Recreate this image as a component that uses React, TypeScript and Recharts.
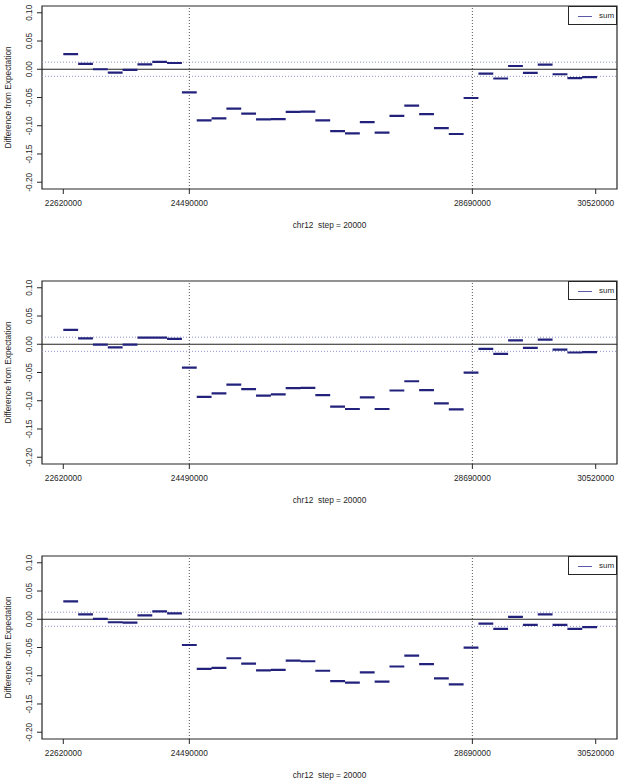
import { Line, LineChart, ReferenceArea, ReferenceLine, XAxis, YAxis } from 'recharts'

// window starts along chr12, each window is BIN_WIDTH wide
const binStarts = [
  22620000, 22840000, 23060000, 23280000, 23500000, 23720000, 23940000, 24160000, 24380000,
  24600000, 24820000, 25040000, 25260000, 25480000, 25700000, 25920000, 26140000, 26360000,
  26580000, 26800000, 27020000, 27240000, 27460000, 27680000, 27900000, 28120000, 28340000,
  28560000, 28780000, 29000000, 29220000, 29440000, 29660000, 29880000, 30100000, 30320000,
]
const BIN_WIDTH = 220000

const sumTop = [
  0.0269, 0.0094, 0.0, -0.0058, -0.0012, 0.0088, 0.0129, 0.0111, -0.0409,
  -0.0906, -0.0871, -0.0696, -0.0784, -0.0889, -0.0883, -0.0754, -0.0749, -0.0906,
  -0.1094, -0.1135, -0.0936, -0.1123, -0.0825, -0.0643, -0.0795, -0.1041, -0.1146,
  -0.0509, -0.0076, -0.0164, 0.0058, -0.0064, 0.0082, -0.0088, -0.0158, -0.014,
]
const sumMiddle = [
  0.0254, 0.0105, -0.0006, -0.0056, -0.0008, 0.0117, 0.0117, 0.0094, -0.0412,
  -0.093, -0.0871, -0.0716, -0.0795, -0.0909, -0.0886, -0.0778, -0.0772, -0.0901,
  -0.1105, -0.1146, -0.0942, -0.1146, -0.0819, -0.0655, -0.0813, -0.1047, -0.1152,
  -0.0503, -0.0082, -0.017, 0.007, -0.0064, 0.0082, -0.0094, -0.0146, -0.014,
]
const sumBottom = [
  0.0316, 0.0088, 0.0006, -0.0053, -0.0058, 0.007, 0.014, 0.0105, -0.0456,
  -0.0877, -0.086, -0.069, -0.0784, -0.0906, -0.0895, -0.0731, -0.0743, -0.0912,
  -0.1094, -0.1123, -0.0942, -0.1105, -0.0836, -0.0643, -0.0795, -0.1047, -0.1152,
  -0.0503, -0.0076, -0.017, 0.0041, -0.0099, 0.0088, -0.0099, -0.017, -0.014,
]

const xTicks = [22620000, 24490000, 28690000, 30520000]
const yTicks = [-0.2, -0.15, -0.1, -0.05, 0, 0.05, 0.1]
const boundaryMarks = [24490000, 28690000]
const BAND = 0.0125

const X_DOMAIN: [number, number] = [22304000, 30836000]
const Y_DOMAIN: [number, number] = [-0.212, 0.112]

const FONT = '"Liberation Sans", Arial, Helvetica, sans-serif'
const INK = '#262626'

function toSegments(values: number[]) {
  const rows: { x: number; y: number | null }[] = []
  values.forEach((v, i) => {
    rows.push({ x: binStarts[i], y: v })
    rows.push({ x: binStarts[i] + BIN_WIDTH, y: v })
    rows.push({ x: binStarts[i] + BIN_WIDTH, y: null })
  })
  return rows
}

function YTick(props: any) {
  const { y, payload } = props
  return (
    <text
      transform={`translate(31.5,${y}) rotate(-90)`}
      textAnchor="middle"
      fontSize={8.3}
      fontFamily={FONT}
      fill={INK}
    >
      {Number(payload.value).toFixed(2)}
    </text>
  )
}

function Panel({ values, height }: { values: number[]; height: number }) {
  const data = toSegments(values)
  return (
    <div style={{ position: 'relative', width: 622, height }}>
      <LineChart
        width={622}
        height={232}
        data={data}
        margin={{ top: 6, right: 5, bottom: 0, left: 0 }}
      >
        <XAxis
          dataKey="x"
          type="number"
          domain={X_DOMAIN}
          ticks={xTicks}
          interval={0}
          allowDataOverflow
          height={43}
          axisLine={false}
          tickLine={{ stroke: INK }}
          tickSize={5}
          tickMargin={6}
          tick={{ fontSize: 8.3, fontFamily: FONT, fill: INK }}
          label={{
            content: (p: any) => (
              <text
                x={p.viewBox.x + p.viewBox.width / 2}
                y={p.viewBox.y + 39}
                textAnchor="middle"
                fontSize={8.3}
                fontFamily={FONT}
                fill={INK}
                style={{ whiteSpace: 'pre' }}
              >
                {'chr12  step = 20000'}
              </text>
            ),
          }}
        />
        <YAxis
          type="number"
          domain={Y_DOMAIN}
          ticks={yTicks}
          interval={0}
          allowDataOverflow
          width={42}
          axisLine={false}
          tickLine={{ stroke: INK }}
          tickSize={5}
          tick={<YTick />}
          label={{
            content: (p: any) => (
              <text
                transform={`translate(11,${p.viewBox.y + p.viewBox.height / 2}) rotate(-90)`}
                textAnchor="middle"
                fontSize={8.3}
                fontFamily={FONT}
                fill={INK}
              >
                Difference from Expectation
              </text>
            ),
          }}
        />
        <ReferenceLine y={BAND} stroke="#8c90c8" strokeDasharray="1 2" />
        <ReferenceLine y={-BAND} stroke="#8c90c8" strokeDasharray="1 2" />
        {boundaryMarks.map((m) => (
          <ReferenceLine key={m} x={m} stroke="#555" strokeDasharray="1 2" />
        ))}
        <ReferenceLine y={0} stroke="#222" strokeWidth={1.2} />
        <ReferenceArea
          x1={X_DOMAIN[0]}
          x2={X_DOMAIN[1]}
          y1={Y_DOMAIN[0]}
          y2={Y_DOMAIN[1]}
          fill="none"
          fillOpacity={0}
          stroke={INK}
          strokeWidth={1.2}
        />
        <Line
          dataKey="y"
          type="linear"
          stroke="#22227c"
          strokeWidth={2.2}
          dot={false}
          activeDot={false}
          connectNulls={false}
          isAnimationActive={false}
        />
      </LineChart>
      <div
        style={{
          position: 'absolute',
          top: 6,
          left: 568,
          width: 49,
          height: 19,
          boxSizing: 'border-box',
          border: `1px solid ${INK}`,
          background: '#fff',
          fontFamily: FONT,
          fontSize: 8,
          color: INK,
        }}
      >
        <div
          style={{
            position: 'absolute',
            left: 9,
            top: 9,
            width: 14,
            borderTop: '1px solid #5a5aa8',
          }}
        />
        <span style={{ position: 'absolute', left: 30, top: 3.5, lineHeight: '10px' }}>sum</span>
      </div>
    </div>
  )
}

export default function App() {
  return (
    <div style={{ width: 622, height: 782, background: '#fff' }}>
      <style>{'body{margin:0}'}</style>
      <Panel values={sumTop} height={275} />
      <Panel values={sumMiddle} height={275} />
      <Panel values={sumBottom} height={232} />
    </div>
  )
}
